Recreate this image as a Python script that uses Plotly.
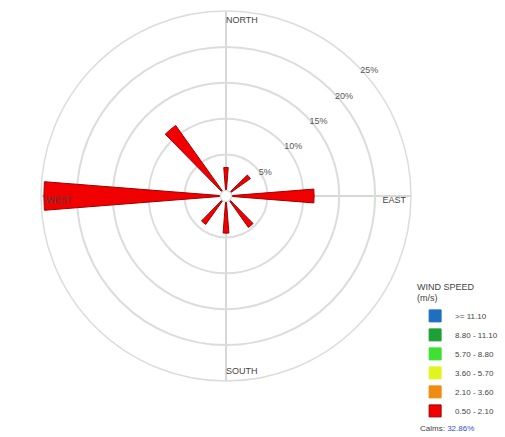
import plotly.graph_objects as go

# Directions (degrees clockwise from north) and frequency (%) for 0.50-2.10 m/s class
directions = [0, 50, 90, 140, 180, 220, 270, 320]
freq_050_210 = [3.2, 3.4, 11.5, 4.6, 4.4, 4.1, 24.6, 11.3]

speed_classes = [">= 11.10", "8.80 - 11.10", "5.70 - 8.80", "3.60 - 5.70", "2.10 - 3.60", "0.50 - 2.10"]
class_colors = ["#1f6fc0", "#1fa035", "#3fe030", "#e0f520", "#f08a10", "#f00000"]

ring_vals = [5, 10, 15, 20, 25]
ring_text = ["5%", "10%", "15%", "20%", "25%"]
calms = "32.86%"

compass_labels = ["NORTH", "EAST", "SOUTH", "WEST"]
compass_theta = [0, 90, 180, 270]
compass_pos = ["bottom right", "bottom left", "top right", "bottom right"]

FONT = "Liberation Sans, Arial, sans-serif"

fig = go.Figure()

for name, col in zip(reversed(speed_classes), reversed(class_colors)):
    if name == "0.50 - 2.10":
        r = freq_050_210
    else:
        r = [0] * len(directions)
    fig.add_trace(go.Barpolar(
        r=r, theta=directions, width=[9] * len(directions), name=name,
        marker=dict(color=col, line=dict(color="#a00000" if name == "0.50 - 2.10" else col, width=1)),
        showlegend=True,
    ))

fig.add_trace(go.Scatterpolar(
    r=[24.3] * 4, theta=compass_theta, mode="text", text=compass_labels,
    textposition=compass_pos, textfont=dict(family=FONT, size=9, color="#444"),
    showlegend=False, hoverinfo="skip",
))

fig.update_layout(
    width=505, height=437,
    margin=dict(l=0, r=0, t=0, b=0),
    paper_bgcolor="white",
    font=dict(family=FONT, size=9, color="#333"),
    polar=dict(
        domain=dict(x=[41 / 505, 411 / 505], y=[1 - 381 / 437, 1 - 11 / 437]),
        bgcolor="white",
        hole=0.03,
        radialaxis=dict(
            range=[0, 25], tickvals=ring_vals, ticktext=ring_text,
            angle=45, tickangle=45, showline=False, ticks="",
            gridcolor="#dcdcdc", gridwidth=1.5, side="clockwise",
            tickfont=dict(family=FONT, size=9, color="#555"),
        ),
        angularaxis=dict(
            rotation=90, direction="clockwise",
            tickvals=compass_theta, showticklabels=False, ticks="",
            showgrid=True, gridcolor="#b0b0b0", gridwidth=1,
            showline=True, linecolor="#dcdcdc", linewidth=1.5,
        ),
    ),
    barmode="stack",
    legend=dict(
        x=0.822, y=1 - 278 / 437, xanchor="left", yanchor="top",
        title=dict(text="WIND SPEED<br>(m/s)", font=dict(family=FONT, size=9, color="#444")),
        font=dict(family=FONT, size=8, color="#444"),
        traceorder="reversed", itemwidth=30, tracegroupgap=0,
        bgcolor="rgba(0,0,0,0)",
    ),
    annotations=[dict(
        x=418 / 505, y=1 - 428 / 437, xref="paper", yref="paper",
        xanchor="left", yanchor="middle", showarrow=False,
        text="Calms: <span style='color:#3050d0'>" + calms + "</span>",
        font=dict(family=FONT, size=8, color="#444"),
    )],
)

fig.write_html("out.html")
